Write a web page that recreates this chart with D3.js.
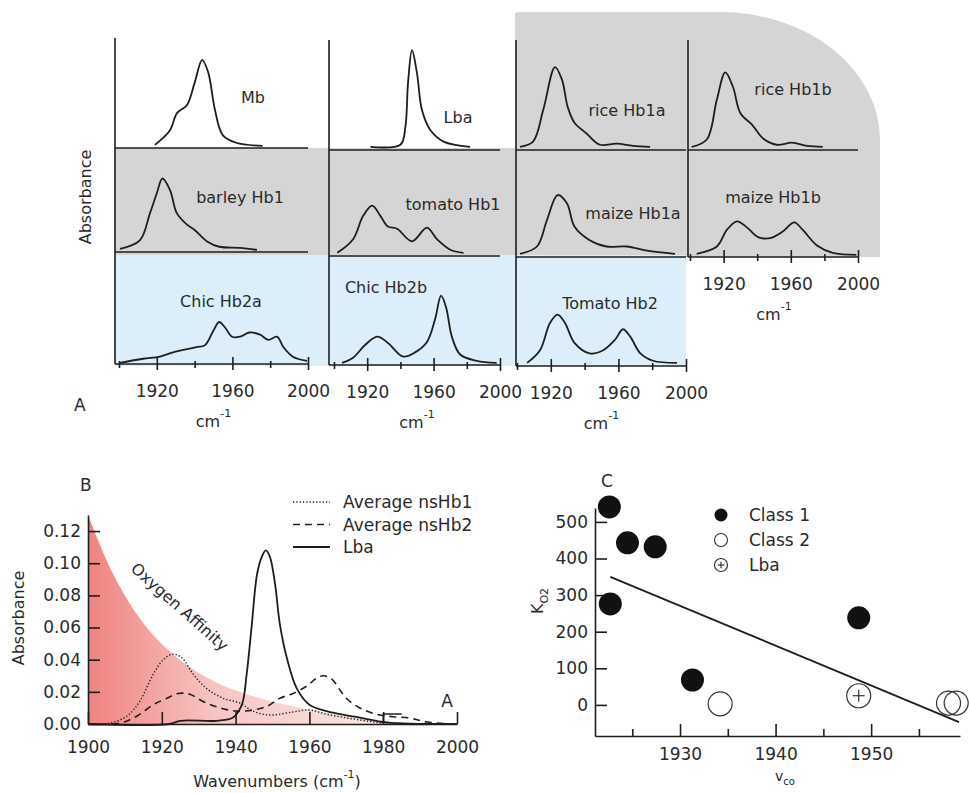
<!DOCTYPE html>
<html>
<head>
<meta charset="utf-8">
<script src="https://cdn.jsdelivr.net/npm/d3@7"></script>
<style>
body { margin: 0; background: #fff; }
text { font-family: "DejaVu Sans", Verdana, sans-serif; fill: #2a2a2a; }
</style>
</head>
<body>
<svg id="fig" width="969" height="793"></svg>
<script>
//Panel A spectra (wavenumber cm-1, relative absorbance)
var mbWn = [1919, 1927, 1930.6, 1936, 1940, 1944, 1947.2, 1950.8, 1955, 1962, 1976];
var mbAb = [0.03, 0.17, 0.33, 0.41, 0.62, 0.84, 0.72, 0.36, 0.12, 0.05, 0.02];
var lbaWn = [1922, 1940, 1943, 1944.6, 1947, 1950, 1953, 1958, 1966, 1982];
var lbaAb = [0.03, 0.05, 0.22, 0.64, 0.95, 0.73, 0.38, 0.19, 0.08, 0.03];
var riceAWn = [1901.8, 1909.5, 1915.5, 1922.5, 1926.6, 1930, 1934, 1941, 1949, 1959, 1968.6, 1978.7];
var riceAAb = [0.03, 0.08, 0.38, 0.79, 0.67, 0.41, 0.26, 0.16, 0.05, 0.06, 0.04, 0.03];
var riceBWn = [1901, 1910, 1916, 1921, 1925.6, 1930, 1937, 1943.5, 1951.7, 1960.7, 1969.6, 1979];
var riceBAb = [0.03, 0.10, 0.48, 0.74, 0.60, 0.35, 0.24, 0.11, 0.05, 0.07, 0.04, 0.03];
var barleyWn = [1900.5, 1911, 1916.4, 1920, 1923, 1927, 1930.6, 1936, 1940, 1946.6, 1953, 1964, 1973];
var barleyAb = [0.03, 0.11, 0.37, 0.56, 0.70, 0.59, 0.37, 0.26, 0.21, 0.10, 0.05, 0.04, 0.02];
var tomato1Wn = [1902, 1911.5, 1917.5, 1923, 1928, 1932.5, 1938, 1947, 1956, 1962, 1970, 1978];
var tomato1Ab = [0.03, 0.16, 0.38, 0.48, 0.38, 0.28, 0.26, 0.14, 0.27, 0.16, 0.06, 0.03];
var maizeAWn = [1901.8, 1911.8, 1917.7, 1924, 1929.6, 1934, 1943, 1953, 1965, 1977, 1993.5];
var maizeAAb = [0.03, 0.10, 0.35, 0.59, 0.51, 0.29, 0.16, 0.10, 0.10, 0.06, 0.03];
var maizeBWn = [1904, 1916, 1922, 1928, 1934, 1940.5, 1947.6, 1955, 1962, 1967, 1975.6, 1985, 1999];
var maizeBAb = [0.03, 0.10, 0.26, 0.34, 0.28, 0.19, 0.18, 0.24, 0.33, 0.26, 0.11, 0.04, 0.02];
var chicAWn = [1900.5, 1912.7, 1921.7, 1928.6, 1941, 1945.5, 1950, 1953, 1956, 1959.8, 1964, 1969, 1974.6, 1979, 1983.6, 1987, 1992, 1999.5];
var chicAAb = [0.01, 0.05, 0.07, 0.11, 0.16, 0.18, 0.32, 0.40, 0.35, 0.26, 0.26, 0.30, 0.28, 0.23, 0.26, 0.16, 0.07, 0.03];
var chicBWn = [1904.8, 1911.5, 1918.7, 1926, 1932.5, 1941.6, 1948.8, 1956, 1960.8, 1964.5, 1967.5, 1971, 1976, 1986, 1998];
var chicBAb = [0.02, 0.07, 0.19, 0.27, 0.21, 0.08, 0.12, 0.22, 0.43, 0.66, 0.55, 0.27, 0.10, 0.04, 0.02];
var tomato2Wn = [1906, 1913.6, 1919.5, 1924, 1928.4, 1934, 1943, 1951, 1958, 1962.7, 1967, 1973, 1980.5, 1994.7];
var tomato2Ab = [0.03, 0.15, 0.41, 0.49, 0.41, 0.22, 0.12, 0.15, 0.25, 0.35, 0.28, 0.12, 0.05, 0.03];
var tickWnA = [1900, 1920, 1940, 1960, 1980, 2000];
var labelWnA = [1920, 1960, 2000];

//Panel B spectra (absorbance)
var affWn = [1900, 1906, 1913.3, 1923, 1934, 1946.6, 1959.3, 1973.7, 1987, 2000];
var affAb = [0.130, 0.097, 0.068, 0.0435, 0.0267, 0.016, 0.0093, 0.0037, 0.0006, 0];
var hb1Wn = [1900, 1906, 1910.6, 1914, 1917.7, 1920.4, 1923, 1925.5, 1928.5, 1932.2, 1936.6, 1941.2, 1944.7, 1949.3, 1955.6, 1960, 1964.8, 1973.7, 1982.7, 2000];
var hb1Ab = [0, 0.0006, 0.005, 0.014, 0.031, 0.040, 0.0435, 0.041, 0.031, 0.022, 0.016, 0.013, 0.008, 0.0056, 0.0075, 0.0087, 0.006, 0.0025, 0, 0];
var hb2Wn = [1900, 1908.7, 1913.3, 1917.7, 1921.4, 1924.4, 1927.6, 1931.2, 1935.8, 1940.4, 1944.7, 1948.5, 1952, 1955.6, 1959.3, 1962, 1963.8, 1966, 1970, 1973.7, 1978.3, 1982.7, 1987.3, 1991.9, 2000];
var hb2Ab = [0, 0.0006, 0.005, 0.012, 0.016, 0.019, 0.0185, 0.014, 0.010, 0.008, 0.0087, 0.011, 0.016, 0.019, 0.0236, 0.0286, 0.030, 0.028, 0.016, 0.010, 0.006, 0.0045, 0.0037, 0.0012, 0];
var lbBWn = [1900, 1922, 1925, 1935, 1939.3, 1941.7, 1943, 1944.4, 1945.8, 1947.1, 1948.2, 1949.3, 1950.7, 1952, 1953.9, 1956.6, 1960, 1966.4, 1973.7, 1981, 2000];
var lbBAb = [0, 0, 0.002, 0.002, 0.004, 0.012, 0.031, 0.062, 0.093, 0.104, 0.108, 0.104, 0.087, 0.062, 0.041, 0.022, 0.012, 0.007, 0.004, 0.001, 0];
var tickWnB = [1900, 1920, 1940, 1960, 1980, 2000];
var tickAbB = [0, 0.02, 0.04, 0.06, 0.08, 0.10, 0.12];

//Panel C points (v_co, K_O2)
var class1V = [1922.6, 1924.5, 1927.4, 1922.7, 1931.3, 1948.7];
var class1K = [541, 443, 432, 276, 68, 238];
var class2V = [1934.2, 1958.1, 1958.9];
var class2K = [3, 5, 5];
var lbaCV = [1948.7];
var lbaCK = [25];
var fitV = [1922.7, 1959.2];
var fitK = [350, -47];
var tickVC = [1925, 1930, 1935, 1940, 1945, 1950, 1955];
var tickKC = [0, 100, 200, 300, 400, 500];

var svg = d3.select("#fig");
var ink = "#1e1e1e";

function spectrumLine(x, y) {
    return d3.line()
             .x(function(d){ return x(d[0]); })
             .y(function(d){ return y(d[1]); })
             .curve(d3.curveCatmullRom.alpha(0.5));
}
function zip(a, b) { return a.map(function(v, i){ return [v, b[i]]; }); }

// ---------- Panel A ----------
var colRange = [[119, 308], [334, 500], [517, 686], [690, 858]];
var colAxis = [115, 329, 516, 688];
var colTop = [38, 40, 40, 40];
var colBottom = [364, 365, 366, 257];

var panelsA = [
    {label: "Mb", wn: mbWn, ab: mbAb, col: 0, base: 148, lx: 253, ly: 97},
    {label: "Lba", wn: lbaWn, ab: lbaAb, col: 1, base: 150, lx: 458, ly: 117},
    {label: "rice Hb1a", wn: riceAWn, ab: riceAAb, col: 2, base: 150, lx: 627, ly: 110},
    {label: "rice Hb1b", wn: riceBWn, ab: riceBAb, col: 3, base: 150, lx: 793, ly: 89},
    {label: "barley Hb1", wn: barleyWn, ab: barleyAb, col: 0, base: 252, lx: 240, ly: 197},
    {label: "tomato Hb1", wn: tomato1Wn, ab: tomato1Ab, col: 1, base: 256, lx: 453, ly: 204},
    {label: "maize Hb1a", wn: maizeAWn, ab: maizeAAb, col: 2, base: 257, lx: 633, ly: 213},
    {label: "maize Hb1b", wn: maizeBWn, ab: maizeBAb, col: 3, base: 257, lx: 773, ly: 197, axis: true},
    {label: "Chic Hb2a", wn: chicAWn, ab: chicAAb, col: 0, base: 364, lx: 221, ly: 301, axis: true},
    {label: "Chic Hb2b", wn: chicBWn, ab: chicBAb, col: 1, base: 365, lx: 386, ly: 287, axis: true},
    {label: "Tomato Hb2", wn: tomato2Wn, ab: tomato2Ab, col: 2, base: 366, lx: 610, ly: 303, axis: true}
];

//Backgrounds
svg.append("path")
   .attr("d", "M115,148 L515,148 L515,14 Q515,12 520,12 L720,12 A160,128 0 0 1 880,140 L880,257 L115,257 Z")
   .style("fill", "#d5d5d5");
svg.append("rect")
   .attr("x", 115).attr("y", 255).attr("width", 571).attr("height", 111)
   .style("fill", "#dbeef9");

//Vertical axes
colAxis.forEach(function(x, i){
    svg.append("line")
       .attr("x1", x).attr("x2", x)
       .attr("y1", colTop[i]).attr("y2", colBottom[i])
       .style("stroke", ink).style("stroke-width", 1.6);
});

panelsA.forEach(function(p){
    var x = d3.scaleLinear().domain([1900, 2000]).range(colRange[p.col]);
    var y = d3.scaleLinear().domain([0, 1]).range([p.base, p.base - 105]);

    //Baseline
    svg.append("line")
       .attr("x1", colAxis[p.col]).attr("x2", colRange[p.col][1])
       .attr("y1", p.base).attr("y2", p.base)
       .style("stroke", ink).style("stroke-width", 1.6);

    if (p.axis) {
        var g = svg.append("g")
                   .attr("transform", "translate(0," + p.base + ")")
                   .call(d3.axisBottom(x)
                           .tickValues(tickWnA)
                           .tickSizeOuter(0)
                           .tickFormat(function(d){ return labelWnA.indexOf(d) >= 0 ? d : ""; }));
        g.select(".domain").remove();
        g.selectAll(".tick line")
         .attr("y1", function(d){ return labelWnA.indexOf(d) >= 0 ? -7 : -3; })
         .attr("y2", function(d){ return labelWnA.indexOf(d) >= 0 ? 6 : 4; })
         .style("stroke", ink).style("stroke-width", 1.6);
        g.selectAll(".tick text")
         .attr("y", 0).attr("dy", 33)
         .style("font-size", "17px").style("fill", "#2a2a2a");

        var cx = (colRange[p.col][0] + colRange[p.col][1]) / 2;
        var cm = svg.append("text")
                    .attr("x", cx).attr("y", p.base + 63)
                    .attr("text-anchor", "middle")
                    .style("font-size", "16px");
        cm.append("tspan").text("cm");
        cm.append("tspan").attr("dy", -10).style("font-size", "11px").text("-1");
    }

    svg.append("path")
       .datum(zip(p.wn, p.ab))
       .attr("d", spectrumLine(x, y))
       .style("fill", "none").style("stroke", ink).style("stroke-width", 1.8);

    svg.append("text")
       .attr("x", p.lx).attr("y", p.ly + 6)
       .attr("text-anchor", "middle")
       .style("font-size", "16px")
       .text(p.label);
});

svg.append("text")
   .attr("transform", "translate(91,197) rotate(-90)")
   .attr("text-anchor", "middle")
   .style("font-size", "16px")
   .text("Absorbance");
svg.append("text").attr("x", 74).attr("y", 411).style("font-size", "17px").text("A");

// ---------- Panel B ----------
var xB = d3.scaleLinear().domain([1900, 2000]).range([88, 457]);
var yB = d3.scaleLinear().domain([0, 0.13]).range([724, 515]);

var grad = svg.append("defs").append("linearGradient")
              .attr("id", "affinity").attr("x1", "0%").attr("x2", "100%");
grad.append("stop").attr("offset", "0%").attr("stop-color", "#ef8380");
grad.append("stop").attr("offset", "35%").attr("stop-color", "#f7c6c4");
grad.append("stop").attr("offset", "100%").attr("stop-color", "#fdf2f1");

svg.append("path")
   .datum(zip(affWn, affAb))
   .attr("d", d3.area()
                .x(function(d){ return xB(d[0]); })
                .y0(yB(0))
                .y1(function(d){ return yB(d[1]); })
                .curve(d3.curveMonotoneX))
   .style("fill", "url(#affinity)");

svg.append("text")
   .attr("transform", "translate(176,611) rotate(41.5)")
   .attr("text-anchor", "middle")
   .style("font-size", "16px")
   .text("Oxygen Affinity");

var xAxisB = svg.append("g")
                .attr("transform", "translate(0," + yB(0) + ")")
                .call(d3.axisBottom(xB).tickValues(tickWnB).tickSize(-12).tickSizeOuter(0).tickPadding(17).tickFormat(d3.format("d")));
var yAxisB = svg.append("g")
                .attr("transform", "translate(" + xB(1900) + ",0)")
                .call(d3.axisLeft(yB).tickValues(tickAbB).tickSize(-12).tickSizeOuter(0).tickPadding(7).tickFormat(d3.format(".2f")));
[xAxisB, yAxisB].forEach(function(a){
    a.selectAll("line, path").style("stroke", ink).style("stroke-width", 1.6);
    a.selectAll("text").style("font-size", "17px").style("fill", "#2a2a2a");
});

var seriesB = [
    {wn: hb1Wn, ab: hb1Ab, dash: "1.3,2", w: 1.4, name: "Average nsHb1"},
    {wn: hb2Wn, ab: hb2Ab, dash: "7,5", w: 1.6, name: "Average nsHb2"},
    {wn: lbBWn, ab: lbBAb, dash: null, w: 1.8, name: "Lba"}
];
seriesB.forEach(function(s, i){
    svg.append("path")
       .datum(zip(s.wn, s.ab))
       .attr("d", spectrumLine(xB, yB))
       .style("fill", "none").style("stroke", ink)
       .style("stroke-width", s.w).style("stroke-dasharray", s.dash);
    var ly = 502 + i * 22.5;
    svg.append("line")
       .attr("x1", 293).attr("x2", 330).attr("y1", ly).attr("y2", ly)
       .style("stroke", ink).style("stroke-width", s.w).style("stroke-dasharray", s.dash);
    svg.append("text").attr("x", 343).attr("y", ly + 6).style("font-size", "17px").text(s.name);
});

//Region A bracket
svg.append("path")
   .attr("d", "M" + xB(1985) + "," + (yB(0) - 10) + " L" + xB(1980) + "," + (yB(0) - 10) + " L" + xB(1980) + "," + yB(0))
   .style("fill", "none").style("stroke", ink).style("stroke-width", 1.4);
svg.append("text").attr("x", 447).attr("y", 707).attr("text-anchor", "middle").style("font-size", "17px").text("A");

svg.append("text").attr("x", 80).attr("y", 491).style("font-size", "17px").text("B");
svg.append("text")
   .attr("transform", "translate(24,618) rotate(-90)")
   .attr("text-anchor", "middle")
   .style("font-size", "16px")
   .text("Absorbance");
var wl = svg.append("text").attr("x", 277).attr("y", 787).attr("text-anchor", "middle").style("font-size", "16px");
wl.append("tspan").text("Wavenumbers (cm");
wl.append("tspan").attr("dy", -9).style("font-size", "11px").text("-1");
wl.append("tspan").attr("dy", 9).text(")");

// ---------- Panel C ----------
var xC = d3.scaleLinear().domain([1921.1, 1959.3]).range([595, 960]);
var yC = d3.scaleLinear().domain([-85, 538]).range([736, 508]);

var xAxisC = svg.append("g")
                .attr("transform", "translate(0," + yC(-85) + ")")
                .call(d3.axisBottom(xC).tickValues(tickVC).tickSizeOuter(0)
                        .tickFormat(function(d){ return d % 10 === 0 ? d : ""; }));
xAxisC.selectAll(".tick line")
      .attr("y2", function(d){ return d % 10 === 0 ? -12 : -7; });
xAxisC.selectAll(".tick text").attr("y", 12);
var yAxisC = svg.append("g")
                .attr("transform", "translate(" + xC(1921.1) + ",0)")
                .call(d3.axisLeft(yC).tickValues(tickKC).tickSize(-12).tickSizeOuter(0).tickPadding(7));
[xAxisC, yAxisC].forEach(function(a){
    a.selectAll("line, path").style("stroke", ink).style("stroke-width", 1.6);
    a.selectAll("text").style("font-size", "17px").style("fill", "#2a2a2a");
});

svg.append("line")
   .attr("x1", xC(fitV[0])).attr("y1", yC(fitK[0]))
   .attr("x2", xC(fitV[1])).attr("y2", yC(fitK[1]))
   .style("stroke", ink).style("stroke-width", 1.8);

svg.append("g").selectAll("circle")
   .data(zip(class1V, class1K)).enter().append("circle")
   .attr("cx", function(d){ return xC(d[0]); })
   .attr("cy", function(d){ return yC(d[1]); })
   .attr("r", 11.5).style("fill", "#111");
svg.append("g").selectAll("circle")
   .data(zip(class2V, class2K)).enter().append("circle")
   .attr("cx", function(d){ return xC(d[0]); })
   .attr("cy", function(d){ return yC(d[1]); })
   .attr("r", 12).style("fill", "none").style("stroke", "#333").style("stroke-width", 1.2);

function lbaMarker(g, cx, cy, r) {
    g.append("circle").attr("cx", cx).attr("cy", cy).attr("r", r)
     .style("fill", "none").style("stroke", "#333").style("stroke-width", 1.2);
    g.append("line").attr("x1", cx - r / 2).attr("x2", cx + r / 2).attr("y1", cy).attr("y2", cy)
     .style("stroke", "#333").style("stroke-width", 1.2);
    g.append("line").attr("x1", cx).attr("x2", cx).attr("y1", cy - r / 2).attr("y2", cy + r / 2)
     .style("stroke", "#333").style("stroke-width", 1.2);
}
lbaCV.forEach(function(v, i){ lbaMarker(svg.append("g"), xC(v), yC(lbaCK[i]), 12); });

//Legend C
svg.append("circle").attr("cx", 721).attr("cy", 515).attr("r", 6.5).style("fill", "#111");
svg.append("circle").attr("cx", 721).attr("cy", 540).attr("r", 6.5)
   .style("fill", "none").style("stroke", "#333").style("stroke-width", 1.1);
lbaMarker(svg.append("g"), 721, 565, 6.5);
["Class 1", "Class 2", "Lba"].forEach(function(t, i){
    svg.append("text").attr("x", 749).attr("y", 521 + i * 25).style("font-size", "17px").text(t);
});

svg.append("text").attr("x", 601).attr("y", 487).style("font-size", "17px").text("C");
var kl = svg.append("text")
            .attr("transform", "translate(543,601) rotate(-90)")
            .attr("text-anchor", "middle")
            .style("font-size", "16px");
kl.append("tspan").text("K");
kl.append("tspan").attr("dy", 5).style("font-size", "11px").text("O2");
var vl = svg.append("text").attr("x", 785).attr("y", 781).attr("text-anchor", "middle").style("font-size", "14px");
vl.append("tspan").text("v");
vl.append("tspan").attr("dy", 4).style("font-size", "10px").text("co");
</script>
</body>
</html>
